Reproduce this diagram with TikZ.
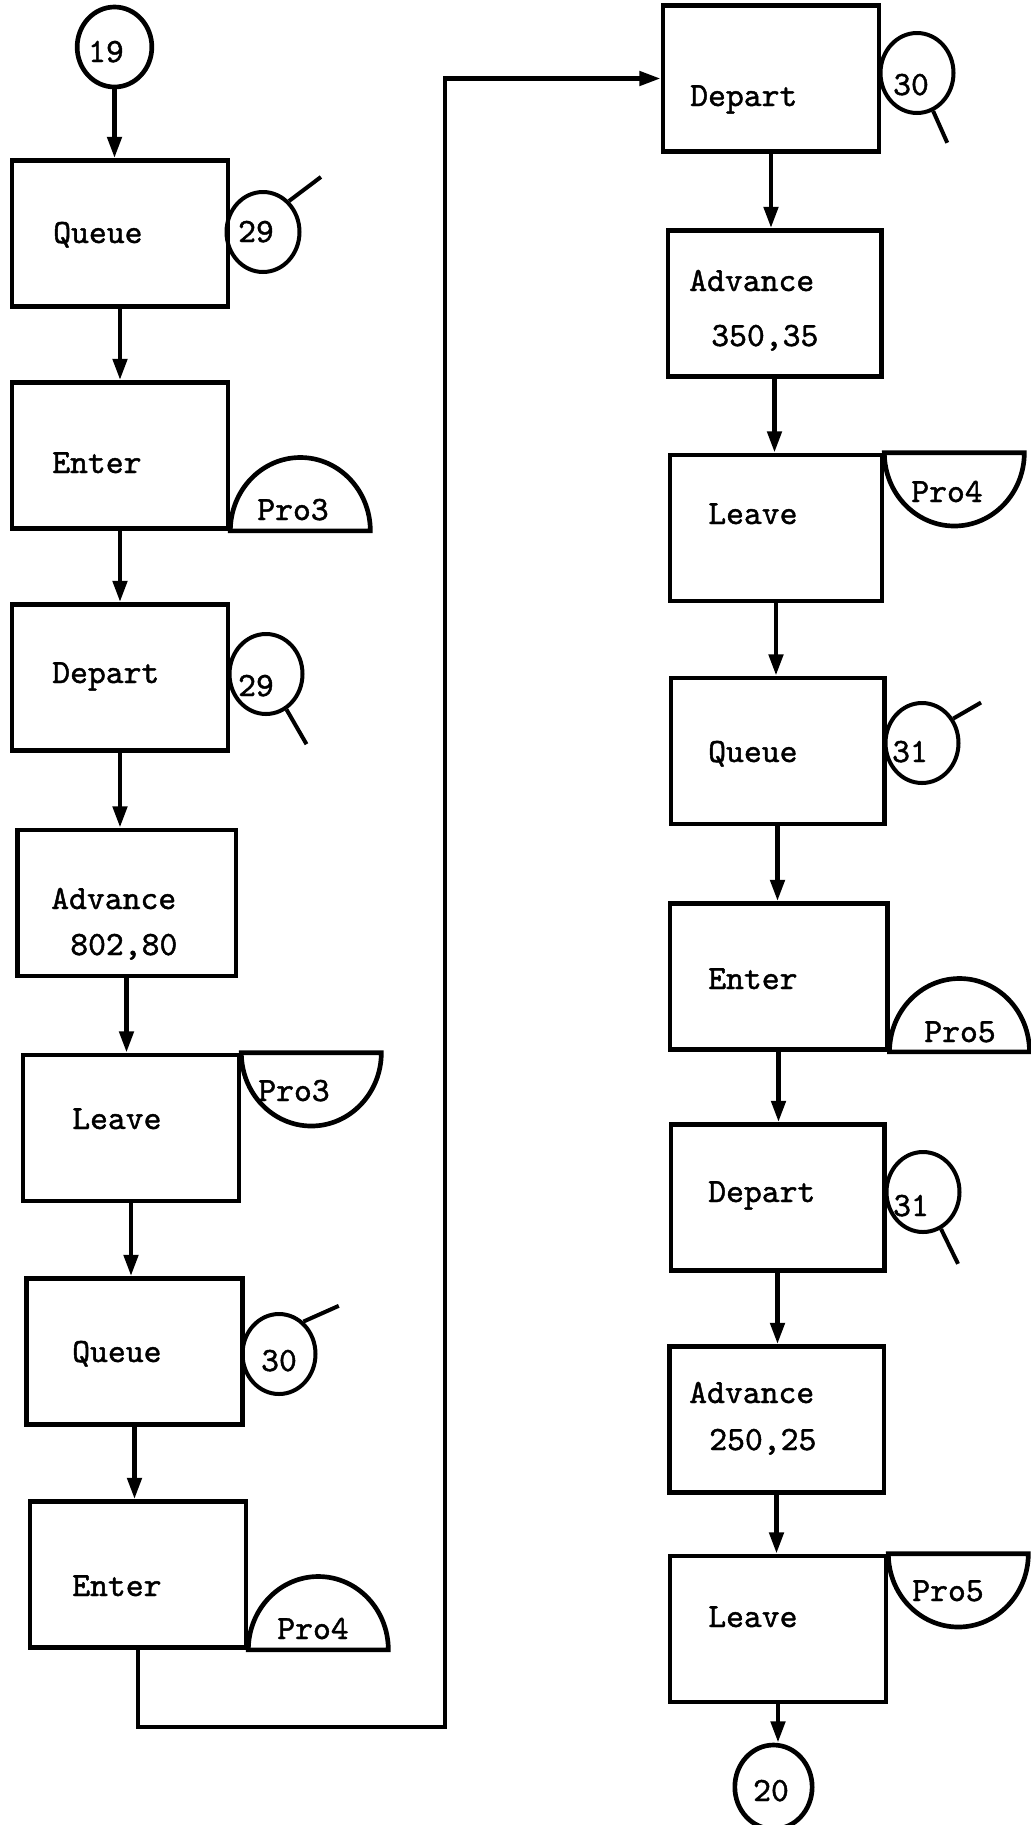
\documentclass[tikz,border=0pt]{standalone}
\usepackage{fontspec}
\newfontfamily\typer{lmmono10-regular.otf}[FakeBold=1.3]
\usetikzlibrary{arrows.meta,shapes.geometric}
\begin{document}
\begin{tikzpicture}[x=0.75pt,y=-0.75pt,
  block/.style={draw, line width=3.5pt, minimum width=162pt, minimum height=109.5pt, inner sep=0pt},
  txt/.style={font=\typer\fontsize{25.5}{30}\selectfont, inner sep=0pt, anchor=west, text height=0.6em, text depth=0pt, yshift=-4.5pt},
  ctxt/.style={font=\typer\fontsize{25.5}{30}\selectfont, inner sep=0pt, text height=0.6em, text depth=0pt, yshift=-4.5pt},
  conn/.style={line width=3.5pt, -{Triangle[length=16pt,width=10.5pt]}},
  tag/.style={draw, ellipse, line width=3pt, minimum width=54.75pt, minimum height=60pt, inner sep=0pt},
  term/.style={draw, ellipse, line width=3.5pt, inner sep=0pt},
  stub/.style={line width=3pt},
  half/.style={line width=3.5pt}]

\useasboundingbox (0,0) rectangle (1031,1825);

% ---- left column ----
\node[term, minimum width=56pt, minimum height=60pt] (c19) at (114.5,47) {};
\node[ctxt] (c19t) at (106,52) {19};
\node[block] (Q1) at (120,233.5) {};
\node[block] (E1) at (120,455.5) {};
\node[block] (D1) at (120,677.5) {};
\node[block, minimum width=164pt] (A1) at (126.5,903) {};
\node[block] (L1) at (131,1128) {};
\node[block] (Q2) at (134.5,1351.5) {};
\node[block] (E2) at (138,1574.5) {};

% ---- right column ----
\node[block] (D2) at (771,78.5) {};
\node[block, minimum width=160pt] (A2) at (774.5,303.5) {};
\node[block, minimum width=159pt] (L2) at (776,528) {};
\node[block, minimum width=160pt] (Q3) at (777.5,751) {};
\node[block, minimum width=163pt] (E3) at (778.5,976.5) {};
\node[block, minimum width=160pt] (D3) at (777.5,1197.5) {};
\node[block, minimum width=161pt] (A3) at (776.5,1419.5) {};
\node[block, minimum width=162pt] (L3) at (778,1629) {};
\node[term, minimum width=58pt, minimum height=63pt] (c20) at (773.5,1787) {};
\node[ctxt] (c20t) at (771,1791) {20};

% ---- block texts ----
\node[txt] (Q1t) at (53,233) {Queue};
\node[txt] (E1t) at (52,463) {Enter};
\node[txt] (D1t) at (52,673) {Depart};
\node[txt] (A1t) at (51,899) {Advance};
\node[txt] (A1n) at (70,945) {802,80};
\node[txt] (L1t) at (72,1119) {Leave};
\node[txt] (Q2t) at (72,1352) {Queue};
\node[txt] (E2t) at (72,1586) {Enter};
\node[txt] (D2t) at (690,96) {Depart};
\node[txt] (A2t) at (689,281) {Advance};
\node[txt] (A2n) at (711,336) {350,35};
\node[txt] (L2t) at (708,514) {Leave};
\node[txt] (Q3t) at (708,752) {Queue};
\node[txt] (E3t) at (708,979) {Enter};
\node[txt] (D3t) at (708,1192) {Depart};
\node[txt] (A3t) at (689,1393) {Advance};
\node[txt] (A3n) at (709,1440) {250,25};
\node[txt] (L3t) at (708,1617) {Leave};

% ---- queue / depart tags with stubs ----
\node[tag] (t29a) at (263,232) {};
\node[ctxt] (t29at) at (256,232) {29};
\draw[stub] (t29a.50) -- ++(37:30pt);

\node[tag] (t29b) at (266,674) {};
\node[ctxt] (t29bt) at (256,686) {29};
\draw[stub] (t29b.-60) -- ++(-60:30pt);

\node[tag] (t30a) at (279,1354) {};
\node[ctxt] (t30at) at (279,1361) {30};
\draw[stub] (t30a.53) -- ++(24:29pt);

\node[tag] (t30b) at (917,73) {};
\node[ctxt] (t30bt) at (911,85) {30};
\draw[stub] (t30b.-67) -- ++(-66:26pt);

\node[tag] (t31a) at (922,743) {};
\node[ctxt] (t31at) at (910,752) {31};
\draw[stub] (t31a.38) -- ++(30:24pt);

\node[tag] (t31b) at (923,1192) {};
\node[ctxt] (t31bt) at (911,1206) {31};
\draw[stub] (t31b.-64) -- ++(-64:29pt);

% ---- storage half discs (enter: upward, leave: downward) ----
\draw[half] (E1.south east) arc[start angle=180, end angle=0, x radius=52.5pt, y radius=55pt] -- cycle;
\node[ctxt] (p3a) at (293,510) {Pro3};
\draw[half] (L1.north east) arc[start angle=180, end angle=360, x radius=52.5pt, y radius=55pt] -- cycle;
\node[ctxt] (p3b) at (294,1091) {Pro3};
\draw[half] (E2.south east) arc[start angle=180, end angle=0, x radius=52.5pt, y radius=55pt] -- cycle;
\node[ctxt] (p4a) at (313,1629) {Pro4};
\draw[half] (L2.north east) arc[start angle=180, end angle=360, x radius=52.5pt, y radius=55pt] -- cycle;
\node[ctxt] (p4b) at (947,492) {Pro4};
\draw[half] (E3.south east) arc[start angle=180, end angle=0, x radius=52.5pt, y radius=55pt] -- cycle;
\node[ctxt] (p5a) at (960,1032) {Pro5};
\draw[half] (L3.north east) arc[start angle=180, end angle=360, x radius=52.5pt, y radius=55pt] -- cycle;
\node[ctxt] (p5b) at (948,1591) {Pro5};

% ---- flow connectors ----
\draw[conn] (c19.south) -- (c19.south |- Q1.north);
\draw[conn] (Q1.south) -- (Q1.south |- E1.north);
\draw[conn] (E1.south) -- (E1.south |- D1.north);
\draw[conn] (D1.south) -- (D1.south |- A1.north);
\draw[conn] (A1.south) -- (A1.south |- L1.north);
\draw[conn] (L1.south) -- (L1.south |- Q2.north);
\draw[conn] (Q2.south) -- (Q2.south |- E2.north);
\coordinate (loop) at (445,1727);
\draw[conn] (E2.south) |- (loop) |- (D2.west);
\draw[conn] (D2.south) -- (D2.south |- A2.north);
\draw[conn] (A2.south) -- (A2.south |- L2.north);
\draw[conn] (L2.south) -- (L2.south |- Q3.north);
\draw[conn] (Q3.south) -- (Q3.south |- E3.north);
\draw[conn] (E3.south) -- (E3.south |- D3.north);
\draw[conn] (D3.south) -- (D3.south |- A3.north);
\draw[conn] (A3.south) -- (A3.south |- L3.north);
\draw[conn] (L3.south) -- (L3.south |- c20.north);
\end{tikzpicture}
\end{document}
